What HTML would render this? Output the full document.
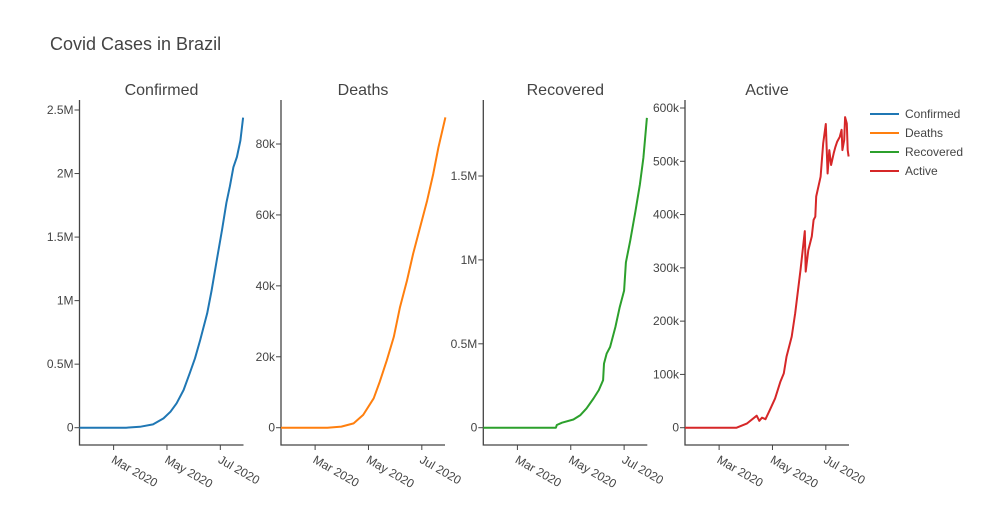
<!DOCTYPE html>
<html><head><meta charset="utf-8"><style>
body{margin:0;background:#fff;font-family:"Liberation Sans",sans-serif}
svg text{font-family:"Liberation Sans",sans-serif}
</style></head><body>
<svg id="chart" width="983" height="525">
<rect width="983" height="525" fill="#fff"/>
<text x="50" y="50" font-size="18" fill="#444">Covid Cases in Brazil</text>
<g id="plots"></g>
<g id="legend"></g>
</svg>
<script>
// day offsets are days since 2020-01-22
const tickDays = [39, 100, 161];
const tickLabels = ["Mar 2020", "May 2020", "Jul 2020"];
const seriesNames = ["Confirmed", "Deaths", "Recovered", "Active"];
const confirmedDays = [0, 53, 69, 84, 96, 104, 111, 119, 126, 132, 138, 146, 151, 157, 163, 168, 172, 176, 180, 184, 187];
const confirmedVals = [0, 200, 7000, 26000, 73000, 126000, 192000, 297000, 428000, 546000, 690000, 900000, 1080000, 1320000, 1560000, 1770000, 1900000, 2050000, 2130000, 2260000, 2440000];
const deathsDays = [0, 53, 69, 83, 94, 106, 113, 121, 129, 136, 144, 151, 159, 167, 174, 180, 188];
const deathsVals = [0, 0, 300, 1200, 3600, 8300, 13000, 19000, 25600, 34000, 41500, 49000, 56500, 64000, 71500, 79000, 87500];
const recoveredDays = [0, 83, 84, 90, 103, 111, 118, 126, 132, 137, 138, 141, 145, 151, 156, 161, 163, 168, 174, 179, 183, 187];
const recoveredVals = [0, 0, 16000, 30000, 49000, 75000, 115000, 174000, 224000, 283000, 382000, 441000, 481000, 600000, 718000, 817000, 985000, 1114000, 1292000, 1450000, 1609000, 1846000];
const activeDays = [0, 59, 71, 82, 85, 88, 92, 97, 103, 109, 113, 116, 122, 126, 132, 137, 138, 141, 145, 147, 149, 150, 155, 158, 161, 163, 165, 167, 170, 172, 174, 177, 179, 180, 182, 183, 185, 186, 187];
const activeVals = [0, 0, 8000, 22500, 13000, 19000, 16000, 33000, 55000, 86000, 102000, 133000, 171000, 215000, 296000, 369000, 293000, 333000, 359000, 390000, 396000, 434000, 471000, 534000, 570000, 477000, 521000, 493000, 515000, 527000, 537000, 546000, 559000, 521000, 540000, 583000, 571000, 521000, 509000];
const yTicks = [[0,500000,1000000,1500000,2000000,2500000],[0,20000,40000,60000,80000],[0,500000,1000000,1500000],[0,100000,200000,300000,400000,500000,600000]];
const yTickLabels = [["0","0.5M","1M","1.5M","2M","2.5M"],["0","20k","40k","60k","80k"],["0","0.5M","1M","1.5M"],["0","100k","200k","300k","400k","500k","600k"]];
const yMax = [2.5e6/317.7*(427.7-100), 80000/283.7*(427.7-100), 1.5e6/251.7*(427.7-100), 600000/319.7*(427.7-100)];
const yMin = [-2.5e6/317.7*17.3, -80000/283.7*17.3, -1.5e6/251.7*17.3, -600000/319.7*17.3];
const colors = ["#1f77b4","#ff7f0e","#2ca02c","#d62728"];
const NS="http://www.w3.org/2000/svg";
const plots=document.getElementById('plots');
const axX=[79.5,281,483.3,685], W=164, TOP=100, BOT=445, DMAX=187.5;
const allDays=[confirmedDays,deathsDays,recoveredDays,activeDays];
const allVals=[confirmedVals,deathsVals,recoveredVals,activeVals];
function mk(tag,attrs,parent){const e=document.createElementNS(NS,tag);for(const k in attrs)e.setAttribute(k,attrs[k]);parent.appendChild(e);return e;}
for(let i=0;i<4;i++){
  const x0=axX[i];
  const xs=d=>x0+d/DMAX*W;
  const ys=v=>BOT-(v-yMin[i])/(yMax[i]-yMin[i])*(BOT-TOP);
  const g=mk('g',{},plots);
  
  
  const t=mk('text',{x:x0+W/2,y:95,'font-size':16,fill:'#444','text-anchor':'middle'},g);
  t.textContent=seriesNames[i];
  
  
  const ax=mk('path',{d:`M${x0},${TOP}V${BOT}H${x0+W}`,stroke:'#444','stroke-width':1.3,fill:'none'},g);
  
  
  yTicks[i].forEach((v,j)=>{
    const y=ys(v);
    mk('line',{x1:x0-5,x2:x0,y1:y,y2:y,stroke:'#444'},g);
    const tl=mk('text',{x:x0-6,y:y+4,'font-size':12,fill:'#444','text-anchor':'end'},g);
    tl.textContent=yTickLabels[i][j];
    
    
  });
  tickDays.forEach((d,j)=>{
    const x=xs(d);
    mk('line',{x1:x,x2:x,y1:BOT,y2:BOT+5,stroke:'#444'},g);
    const tl=mk('text',{x:0,y:0,'font-size':12,fill:'#444',transform:`translate(${x-3},${BOT+17}) rotate(30)`},g);
    tl.textContent=tickLabels[j];
    
    
  });
  const pts=allDays[i].map((d,k)=>`${xs(d).toFixed(1)},${ys(allVals[i][k]).toFixed(1)}`).join(' ');
  const pl=mk('polyline',{points:pts,fill:'none',stroke:colors[i],'stroke-width':2,'stroke-linejoin':'round'},g);
  
  
}
const lg=document.getElementById('legend');
seriesNames.forEach((n,i)=>{
  const y=114+i*19;
  const e=mk('g',{},lg);
  
  
  mk('line',{x1:870,x2:899,y1:y,y2:y,stroke:colors[i],'stroke-width':2},e);
  const t=mk('text',{x:905,y:y+4,'font-size':12,fill:'#444'},e);
  t.textContent=n;
});
</script>
</body></html>
